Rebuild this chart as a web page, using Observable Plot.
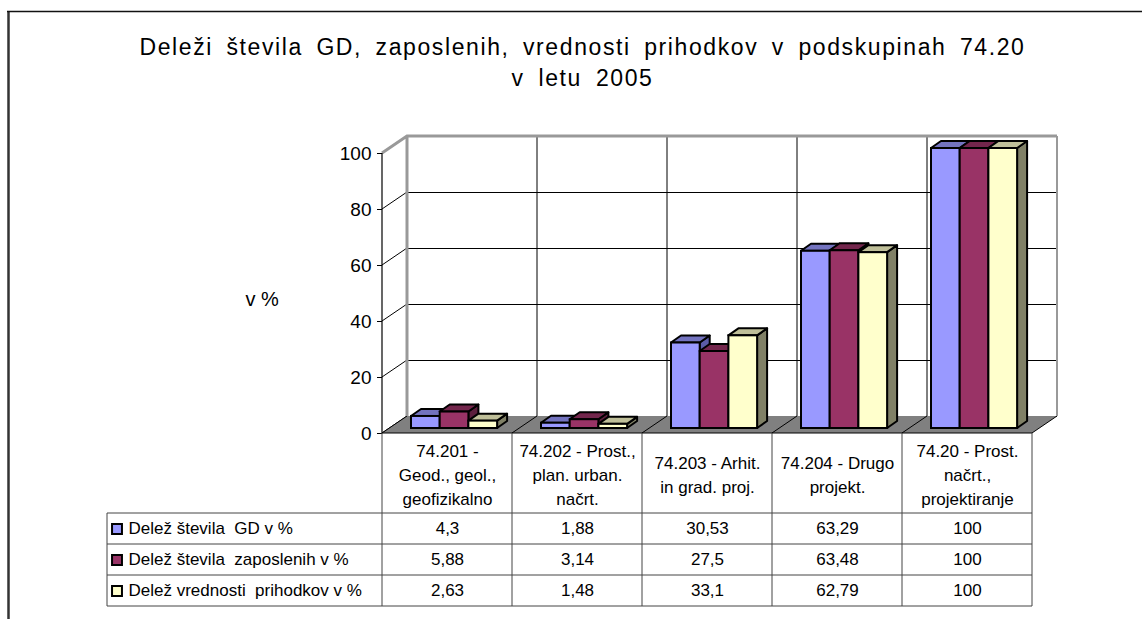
<!DOCTYPE html>
<html>
<head>
<meta charset="utf-8">
<script src="https://cdn.jsdelivr.net/npm/d3@7"></script>
<script src="https://cdn.jsdelivr.net/npm/@observablehq/plot@0.6"></script>
<style>
  html, body { margin: 0; padding: 0; background: #fff; }
  svg text { white-space: pre; }
</style>
</head>
<body>
<div id="chart"></div>
<script>
// ---- data ----
const titleLines = ["Deleži števila GD, zaposlenih, vrednosti prihodkov v podskupinah 74.20", "v letu 2005"];
const yLabel = "v %";
const categories = [
  "74.201 -\nGeod., geol.,\ngeofizikalno",
  "74.202 - Prost.,\nplan. urban.\nnačrt.",
  "74.203 - Arhit.\nin grad. proj.",
  "74.204 - Drugo\nprojekt.",
  "74.20 - Prost.\nnačrt.,\nprojektiranje"
];
const seriesNames = ["Delež števila  GD v %", "Delež števila  zaposlenih v %", "Delež vrednosti  prihodkov v %"];
const gdShare = [4.3, 1.88, 30.53, 63.29, 100];
const employeeShare = [5.88, 3.14, 27.5, 63.48, 100];
const revenueShare = [2.63, 1.48, 33.1, 62.79, 100];
const yTicks = [0, 20, 40, 60, 80, 100];

const seriesValues = [gdShare, employeeShare, revenueShare];
const frontColors = ["#9999FF", "#993366", "#FFFFCC"];
const topColors = ["#7373BF", "#73264C", "#BFBF99"];
const sideColors = ["#5C5CA6", "#5C1F3D", "#808066"];

// ---- layout ----
const W = 1142, H = 619;
const ML = 382, MR = 110, MT = 153, MB = 186;
const WX = 25, WY = -17;      // wall depth offset
const FX = 8, FY = -5;        // bar front-plane offset
const DX = 10, DY = -7;       // bar depth
const BW = (W - ML - MR) / categories.length;
const PAD = 21, BAR = 28.7;
const fmt = v => String(v).replace(".", ",");

const line = (g, x1, y1, x2, y2, stroke, w) =>
  g.append("line").attr("x1", x1).attr("y1", y1).attr("x2", x2).attr("y2", y2)
   .attr("stroke", stroke).attr("stroke-width", w);

function background(index, {x, y}, values, dim) {
  const g = d3.create("svg:g");
  const x0 = dim.marginLeft, x1 = dim.width - dim.marginRight;
  const yT = y(100), y0 = y(0);
  const bounds = [...categories.map(c => x(c)), x(categories[categories.length - 1]) + x.bandwidth()];
  for (const b of bounds.slice(1, -1)) line(g, b + WX, yT + WY, b + WX, y0 + WY, "#000", 1);
  for (const t of yTicks.slice(0, -1)) line(g, x0, y(t), x0 + WX, y(t) + WY, "#000", 1);
  g.append("path")
    .attr("d", `M${x0},${y0}L${x1},${y0}L${x1 + WX},${y0 + WY}L${x0 + WX},${y0 + WY}Z`)
    .attr("fill", "#808080");
  for (const b of bounds) line(g, b, y0, b + WX, y0 + WY, "#000", 1);
  // wall edges
  g.append("path")
    .attr("d", `M${x0},${yT}L${x0 + WX},${yT + WY}L${x1 + WX},${yT + WY}M${x0 + WX},${yT + WY}L${x0 + WX},${y0 + WY}`)
    .attr("fill", "none").attr("stroke", "#999").attr("stroke-width", 3);
  line(g, x1 + WX, yT + WY, x1 + WX, y0 + WY, "#999", 2);
  // axis line
  line(g, x0, yT, x0, y0, "#000", 1.2);
  return g.node();
}

function faces(s) {
  return (index, {x, y}) => {
    const g = d3.create("svg:g");
    categories.forEach((c, i) => {
      const v = seriesValues[s][i];
      const xa = x(c) + PAD + s * BAR + FX, xb = xa + BAR;
      const yt = y(v) + FY, yb = y(0) + FY;
      g.append("path")
        .attr("d", `M${xb},${yb}L${xb + DX},${yb + DY}L${xb + DX},${yt + DY}L${xb},${yt}Z`)
        .attr("fill", sideColors[s]).attr("stroke", "#000").attr("stroke-width", 2).attr("stroke-linejoin", "round");
      g.append("path")
        .attr("d", `M${xa},${yt}L${xb},${yt}L${xb + DX},${yt + DY}L${xa + DX},${yt + DY}Z`)
        .attr("fill", topColors[s]).attr("stroke", "#000").attr("stroke-width", 2).attr("stroke-linejoin", "round");
    });
    return g.node();
  };
}

function tableGrid(index, {x, y}, values, dim) {
  const g = d3.create("svg:g");
  const y0 = y(0);
  const bounds = [...categories.map(c => x(c)), x(categories[categories.length - 1]) + x.bandwidth()];
  const rowY = [513, 544, 575, 606];
  const left = 107;
  const col = "#444";
  line(g, bounds[0], y0, bounds[bounds.length - 1], y0, "#000", 1.2);
  for (const ry of rowY) line(g, left, ry, bounds[bounds.length - 1], ry, col, 1);
  line(g, left, rowY[0], left, rowY[rowY.length - 1], col, 1);
  for (const b of bounds) line(g, b, y0, b, rowY[rowY.length - 1], col, 1);
  // outer chart border (left + top)
  line(g, 8.5, 11.5, 8.5, dim.height, "#333", 2.5);
  line(g, 7, 11.5, dim.width, 11.5, "#111", 1.5);
  return g.node();
}

const rows = seriesValues.map((vals, s) => categories.map((c, i) => ({cat: c, v: vals[i], s})));

const marks = [
  Plot.gridY({ticks: yTicks, dx: WX, dy: WY, stroke: "#000", strokeOpacity: 1, strokeWidth: 1}),
  background
];
rows.forEach((r, s) => {
  marks.push(faces(s));
  marks.push(Plot.barY(r, {
    x: "cat", y: "v", fill: frontColors[s], stroke: "#000", strokeWidth: 2,
    insetLeft: PAD + s * BAR, insetRight: BW - PAD - (s + 1) * BAR, dx: FX, dy: FY
  }));
});
const titleDx = 582 - (ML + (W - ML - MR) / 2);
marks.push(
  Plot.axisY({ticks: yTicks, tickSize: 5, tickPadding: 6, fontSize: 19, label: null, stroke: "#000", fill: "#000"}),
  tableGrid,
  Plot.text(categories, {x: d => d, text: d => d, frameAnchor: "bottom", lineAnchor: "middle", dy: 40, fontSize: 17, lineHeight: 24 / 17, fill: "#000"}),
  Plot.text([yLabel], {text: d => d, frameAnchor: "left", lineAnchor: "middle", dx: 245 - ML, dy: 6, fontSize: 20, fill: "#000"}),
  Plot.text([titleLines[0]], {text: d => d, frameAnchor: "top", lineAnchor: "middle", dx: titleDx, dy: 47 - MT, fontSize: 23, fill: "#000"}),
  Plot.text([titleLines[1]], {text: d => d, frameAnchor: "top", lineAnchor: "middle", dx: titleDx, dy: 78 - MT, fontSize: 23, fill: "#000"})
);
rows.forEach((r, s) => {
  const dyRow = 95.5 + s * 31;
  marks.push(
    Plot.text(r, {x: "cat", text: d => fmt(d.v), frameAnchor: "bottom", lineAnchor: "middle", dy: dyRow, fontSize: 17, fill: "#000"}),
    Plot.text([seriesNames[s]], {text: d => d, frameAnchor: "bottom-left", lineAnchor: "middle", dx: 128 - ML, dy: dyRow, textAnchor: "start", fontSize: 17, fill: "#000"}),
    Plot.dot([seriesNames[s]], {frameAnchor: "bottom-left", dx: 116.5 - ML, dy: dyRow, symbol: "square", r: 5.6, fill: frontColors[s], stroke: "#000", strokeWidth: 2})
  );
});

const chart = Plot.plot({
  width: W, height: H,
  marginLeft: ML, marginRight: MR, marginTop: MT, marginBottom: MB,
  x: {type: "band", domain: categories, padding: 0, axis: null},
  y: {domain: [0, 100], axis: null},
  style: {fontFamily: "'Liberation Sans', Arial, sans-serif", background: "#fff", color: "#000"},
  marks
});
document.getElementById("chart").appendChild(chart);

// spread the title to the original's width: a little letter spacing, the rest between words
const targets = [[titleLines[0], 886], [titleLines[1], 142]];
chart.querySelectorAll("text").forEach(t => {
  for (const [str, len] of targets) {
    if (t.textContent === str) {
      t.style.letterSpacing = "1.6px";
      const natural = t.getComputedTextLength();
      const spaces = str.split(" ").length - 1;
      const ws = Math.max(0, (len - natural) / spaces);
      t.style.wordSpacing = ws + "px";
    }
  }
});
</script>
</body>
</html>
